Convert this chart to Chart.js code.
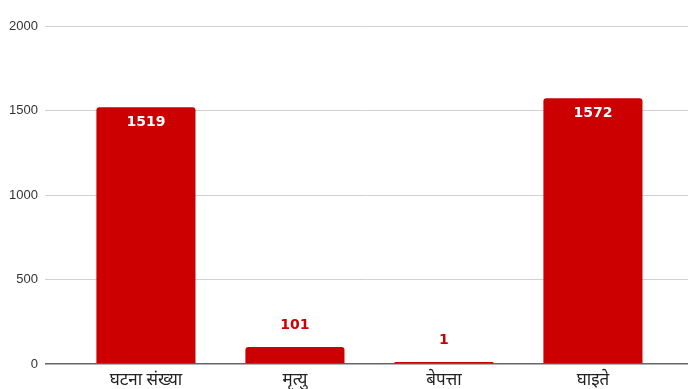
<!DOCTYPE html>
<html><head><meta charset="utf-8">
<script src="https://cdn.jsdelivr.net/npm/chart.js@4"></script>
<style>html,body{margin:0;padding:0;background:#fff}#w{width:688px;height:389px}</style>
</head><body><div id="w"><canvas id="c"></canvas></div>
<script>
const categories = ["घटना संख्या", "मृत्यु", "बेपत्ता", "घाइते"];
const values = [1519, 101, 1, 1572];
const yTicks = [0, 500, 1000, 1500, 2000];

const labelPlugin = {
  id: 'barLabels',
  afterDatasetsDraw(chart) {
    const ctx = chart.ctx;
    const meta = chart.getDatasetMeta(0);
    const zeroY = chart.scales.y.getPixelForValue(0);
    ctx.save();
    ctx.font = 'bold 14px "DejaVu Sans", Verdana, sans-serif';
    ctx.textAlign = 'center';
    ctx.textBaseline = 'middle';
    meta.data.forEach((el, i) => {
      const v = values[i];
      if (v > 1000) {
        ctx.fillStyle = '#ffffff';
        ctx.fillText(String(v), el.x, el.y + 15);
      } else {
        ctx.fillStyle = '#cc0000';
        ctx.fillText(String(v), el.x, Math.min(el.y, zeroY - 1) - 22);
      }
    });
    ctx.restore();
  }
};

new Chart(document.getElementById('c'), {
  type: 'bar',
  data: {
    datasets: [{
      data: categories.map((c, i) => ({x: i, y: values[i]})),
      backgroundColor: '#cc0000',
      borderRadius: {topLeft: 3, topRight: 3},
      borderSkipped: 'bottom',
      categoryPercentage: 1,
      barPercentage: 0.665,
      minBarLength: 2
    }]
  },
  options: {
    responsive: true,
    maintainAspectRatio: false,
    animation: false,
    layout: {padding: {top: 26, right: 0, bottom: 0, left: 2}},
    plugins: {legend: {display: false}, tooltip: {enabled: false}},
    scales: {
      x: {
        type: 'linear',
        offset: false,
        bounds: 'data',
        min: -0.678,
        max: 3.638,
        afterBuildTicks(scale) { scale.ticks = categories.map((c, i) => ({value: i})); },
        grid: {display: false},
        border: {display: false},
        ticks: {
          autoSkip: false,
          maxRotation: 0,
          padding: 0,
          color: '#222',
          font: {size: 17, family: '"Noto Sans", sans-serif', lineHeight: 1},
          callback: (v) => categories[v]
        }
      },
      y: {
        min: 0, max: 2000,
        afterBuildTicks(scale) { scale.ticks = yTicks.map(v => ({value: v})); },
        grid: {
          drawTicks: false,
          color: (c) => c.tick && c.tick.value === 0 ? '#666666' : '#d0d0d0',
          lineWidth: (c) => c.tick && c.tick.value === 0 ? 1.5 : 1
        },
        border: {display: false},
        ticks: {
          padding: 7,
          color: '#333',
          font: {size: 13, family: '"Liberation Sans", Arial, sans-serif'},
          callback: (v) => String(v)
        }
      }
    }
  },
  plugins: [labelPlugin]
});
</script></body></html>
